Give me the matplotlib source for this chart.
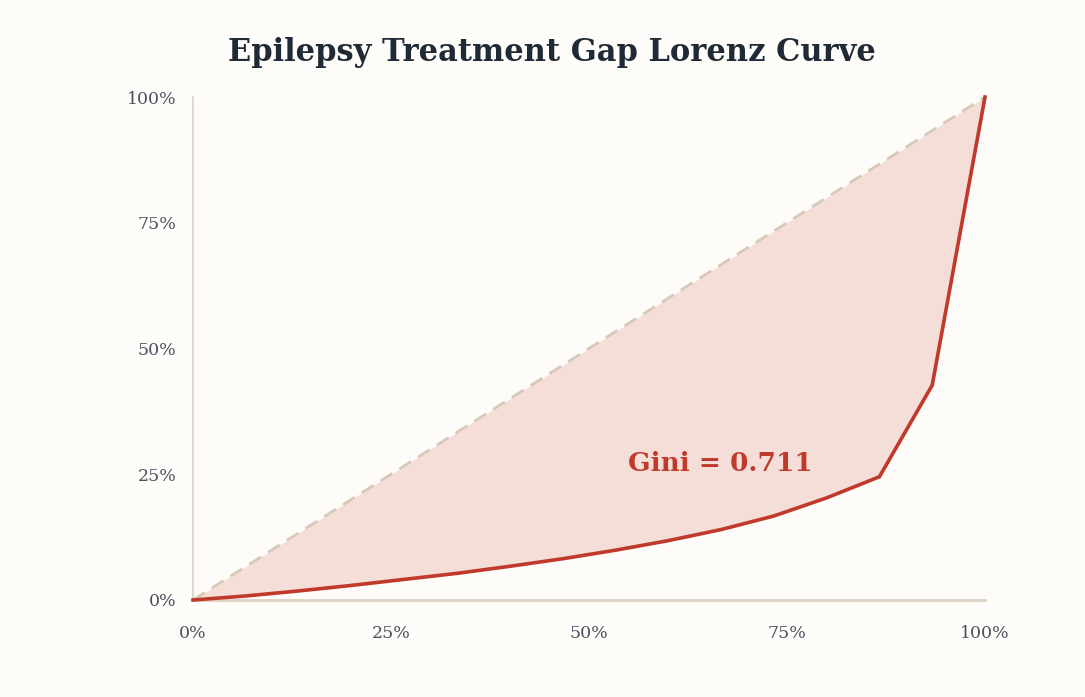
import matplotlib.pyplot as plt
from matplotlib.ticker import FuncFormatter

# ── colours ───────────────────────────────────────────────────────────────────
C_BG    = "#fdfcf8"
C_LINE  = "#c0392b"
C_FILL  = "#f5ddd8"
C_DIAG  = "#d6c9ba"
C_AXIS  = "#ddd3c4"
C_TICK  = "#4a5262"
C_TITLE = "#1f2a36"

# ── data (cumulative share of population vs cumulative share of treatment) ──
pop_share = [0.0, 1/15, 2/15, 3/15, 4/15, 5/15, 6/15, 7/15, 8/15,
             9/15, 10/15, 11/15, 12/15, 13/15, 14/15, 1.0]
cum_share = [0.0, 0.008, 0.018, 0.029, 0.041, 0.053, 0.067, 0.082, 0.099,
             0.118, 0.140, 0.167, 0.203, 0.245, 0.427, 1.0]
gini = 0.711
ticks = [0, 0.25, 0.5, 0.75, 1.0]

plt.rcParams["font.family"] = ["DejaVu Serif"]

fig = plt.figure(figsize=(10.85, 6.97), dpi=100)
fig.patch.set_facecolor(C_BG)
ax = fig.add_axes([193 / 1085, 97 / 697, 792 / 1085, 503 / 697])
ax.set_facecolor(C_BG)

# equality line + area between
ax.fill_between(pop_share, pop_share, cum_share, color=C_FILL, lw=0, zorder=1)
ax.plot([0, 1], [0, 1], color=C_DIAG, lw=2, ls=(0, (5, 3)), zorder=2)
ax.plot(pop_share, cum_share, color=C_LINE, lw=2.6, zorder=3,
        solid_joinstyle="miter", clip_on=False)

ax.text(0.549, 0.272, f"Gini = {gini:.3f}", color=C_LINE, fontsize=19,
        fontweight="bold", ha="left", va="center")

ax.set_xlim(0, 1)
ax.set_ylim(0, 1)
ax.set_xticks(ticks)
ax.set_yticks(ticks)
pct = FuncFormatter(lambda v, _: f"{v * 100:.0f}%")
ax.xaxis.set_major_formatter(pct)
ax.yaxis.set_major_formatter(pct)
ax.tick_params(length=0, labelsize=12.5, colors=C_TICK)
ax.tick_params(axis="x", pad=18)
ax.tick_params(axis="y", pad=12)

for s in ("top", "right"):
    ax.spines[s].set_visible(False)
ax.spines["left"].set_color(C_AXIS)
ax.spines["left"].set_linewidth(1.2)
ax.spines["bottom"].set_color(C_AXIS)
ax.spines["bottom"].set_linewidth(2)

fig.text(552 / 1085, 1 - 52 / 697, "Epilepsy Treatment Gap Lorenz Curve",
         ha="center", va="center", fontsize=22, fontweight="bold",
         color=C_TITLE)

fig.savefig("out.png", dpi=100, facecolor=fig.get_facecolor())
